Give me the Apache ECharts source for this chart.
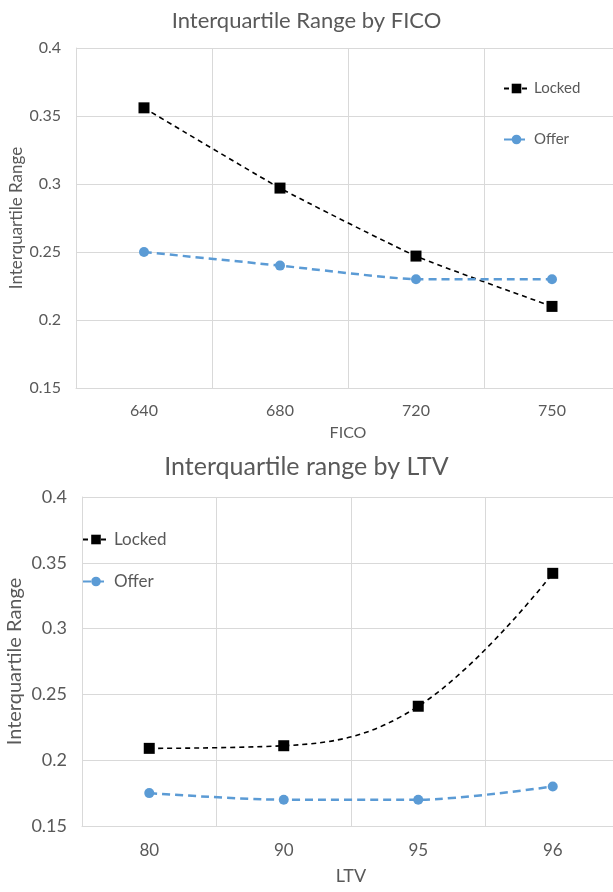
<!DOCTYPE html>
<html>
<head>
<meta charset="utf-8">
<script src="https://cdn.jsdelivr.net/npm/echarts@6/dist/echarts.min.js"></script>
<style>
    html, body { margin: 0; padding: 0; background: #fff; }
    #main { width: 613px; height: 892px; }
</style>
</head>
<body>
<div id="main"></div>
<script>
    // top chart: by FICO
    var ficoCats = ['640', '680', '720', '750'];
    var ficoLocked = [0.356, 0.297, 0.247, 0.210];
    var ficoOffer = [0.25, 0.24, 0.23, 0.23];

    // bottom chart: by LTV
    var ltvCats = ['80', '90', '95', '96'];
    var ltvLocked = [0.209, 0.211, 0.241, 0.342];
    var ltvOffer = [0.175, 0.170, 0.170, 0.180];

    var yMin = 0.15, yMax = 0.4, yStep = 0.05;

    var txt = '#595959';
    var gridColor = '#d9d9d9';
    var blue = '#5b9bd5';
    var font = 'Lato, "Open Sans", sans-serif';

    function xAxisCfg(idx, cats, name, fs, nfs, margin, gap) {
        return {
            type: 'category', gridIndex: idx, data: cats,
            boundaryGap: true,
            name: name, nameLocation: 'middle', nameGap: gap,
            nameTextStyle: { color: txt, fontSize: nfs, fontFamily: font },
            axisLine: { lineStyle: { color: gridColor, width: 1 } },
            axisTick: { show: false },
            axisLabel: { color: txt, fontSize: fs, fontFamily: font, margin: margin, interval: 0 },
            splitLine: { show: true, interval: 0, lineStyle: { color: gridColor, width: 1 } }
        };
    }
    function yAxisCfg(idx, fs, nfs, gap) {
        return {
            type: 'value', gridIndex: idx, min: yMin, max: yMax, interval: yStep,
            name: 'Interquartile Range', nameLocation: 'middle', nameGap: gap, nameRotate: 90,
            nameMoveOverlap: false,
            nameTextStyle: { color: txt, fontSize: nfs, fontFamily: font },
            axisLine: { show: true, lineStyle: { color: gridColor, width: 1 } },
            axisTick: { show: false },
            axisLabel: { color: txt, fontSize: fs, fontFamily: font, margin: 15 },
            splitLine: { show: true, lineStyle: { color: gridColor, width: 1 } }
        };
    }
    function lockedSeries(idx, data, smooth) {
        return {
            name: 'Locked', type: 'line', xAxisIndex: idx, yAxisIndex: idx,
            data: data, smooth: smooth,
            symbol: 'rect', symbolSize: 11,
            itemStyle: { color: '#000' },
            lineStyle: { color: '#000', width: 1.6, type: [5, 4] },
            animation: false
        };
    }
    function offerSeries(idx, data, smooth) {
        return {
            name: 'Offer', type: 'line', xAxisIndex: idx, yAxisIndex: idx,
            data: data, smooth: smooth,
            symbol: 'circle', symbolSize: 10,
            itemStyle: { color: blue },
            lineStyle: { color: blue, width: 2.5, type: [8, 5] },
            animation: false
        };
    }

    var myChart = echarts.init(document.getElementById('main'));
    var option = {
        backgroundColor: '#fff',
        title: [
            { text: 'Interquartile Range by FICO', left: 'center', top: 5,
              textStyle: { color: txt, fontSize: 22, fontWeight: 'normal', fontFamily: font } },
            { text: 'Interquartile range by LTV', left: 'center', top: 449,
              textStyle: { color: txt, fontSize: 25, fontWeight: 'normal', fontFamily: font } }
        ],
        legend: [
            { orient: 'vertical', left: 498, top: 76, itemWidth: 25, itemHeight: 12, itemGap: 36,
              data: ['Locked', 'Offer'],
              textStyle: { color: txt, fontSize: 15, fontFamily: font } },
            { orient: 'vertical', left: 77, top: 526, itemWidth: 26, itemHeight: 12, itemGap: 25,
              data: ['Locked', 'Offer'],
              textStyle: { color: txt, fontSize: 17, fontFamily: font } }
        ],
        grid: [
            { left: 76, top: 48, width: 544, height: 340, outerBoundsMode: 'none' },
            { left: 82, top: 497, width: 538, height: 329, outerBoundsMode: 'none' }
        ],
        xAxis: [
            xAxisCfg(0, ficoCats, 'FICO', 16, 16, 15, 37),
            xAxisCfg(1, ltvCats, 'LTV', 17, 18, 16, 41)
        ],
        yAxis: [
            yAxisCfg(0, 16, 17, 51),
            yAxisCfg(1, 18, 20, 57)
        ],
        series: [
            lockedSeries(0, ficoLocked, 0.15),
            offerSeries(0, ficoOffer, 0.15),
            lockedSeries(1, ltvLocked, 0.4),
            offerSeries(1, ltvOffer, 0.3)
        ]
    };
    myChart.setOption(option);
</script>
</body>
</html>
